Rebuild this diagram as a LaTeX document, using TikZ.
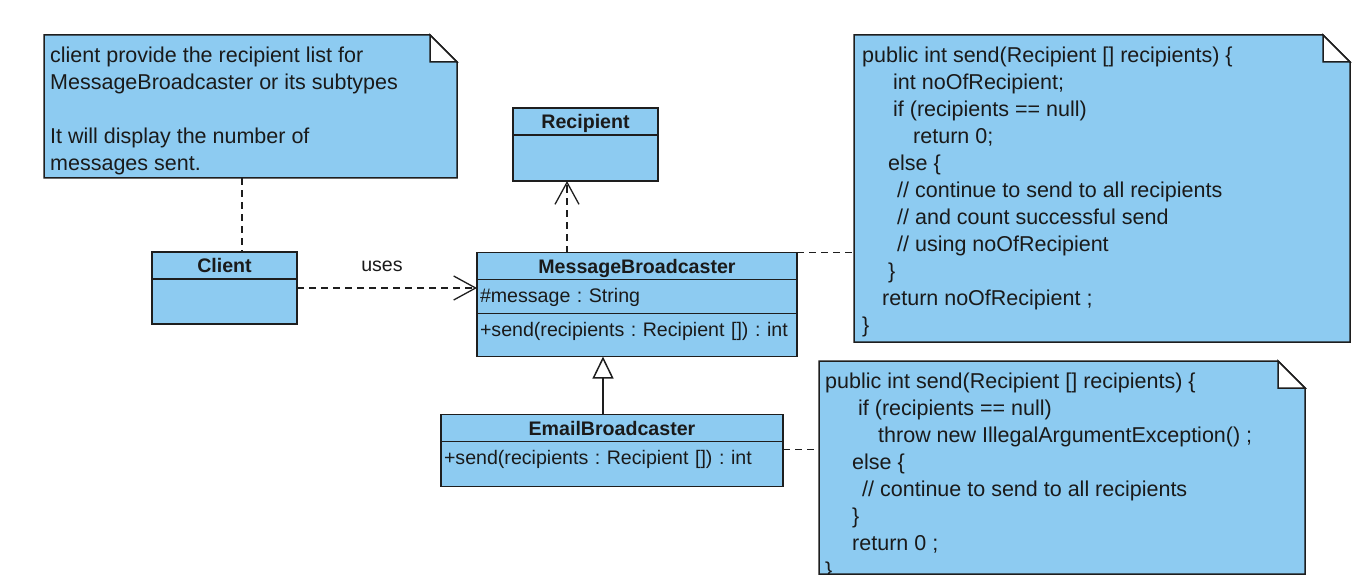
\documentclass[tikz,border=0pt]{standalone}
\usepackage{fontspec}
\setmainfont{Liberation Sans}
\usetikzlibrary{positioning,arrows.meta}
\definecolor{umlfill}{HTML}{8DCBF1}
\definecolor{umlline}{HTML}{1E1E1E}
\definecolor{umltext}{HTML}{1A1A1A}
\frenchspacing
% note outline with a folded corner
\newcommand{\notefold}[1]{%
  \path[notefill] (#1.north west) -- ([xshift=-27pt]#1.north east) -- ([yshift=-27pt]#1.north east) -- (#1.south east) -- (#1.south west) -- cycle;
  \path[notefill, fill=white] ([xshift=-27pt]#1.north east) |- ([yshift=-27pt]#1.north east) -- cycle;}

\begin{document}
\begin{tikzpicture}[x=1pt, y=-1pt]
  \tikzstyle{umlbox} = [rectangle, draw=umlline, fill=umlfill, line width=1.5pt, outer sep=0pt, text=umltext]
  \tikzstyle{classhead} = [umlbox, inner sep=0pt, text height=20.5pt, text depth=6.5pt, font=\fontsize{19.6}{24}\selectfont\bfseries]
  \tikzstyle{classpart} = [umlbox, inner xsep=3pt, inner ysep=0pt, text height=23pt, align=left, font=\fontsize{19.6}{24}\selectfont]
  \tikzstyle{notearea} = [rectangle, inner sep=0pt, outer sep=0pt]
  \tikzstyle{notefill} = [draw=umlline, fill=umlfill, line width=1.5pt]
  \tikzstyle{notetext} = [inner sep=0pt, align=left, text=umltext, font=\fontsize{21.5}{27}\selectfont]
  \tikzstyle{link} = [draw=umlline, line width=1.3pt, dash pattern=on 7pt off 5pt]
  \tikzstyle{depend} = [link, -{Straight Barb[length=22pt, width=24pt]}]
  \tikzstyle{inherit} = [draw=umlline, line width=1.5pt, -{Triangle[open, length=22pt, width=21pt]}]

  \useasboundingbox (0,0) rectangle (1372,588);

  % classes
  \node (clientHead) [classhead, minimum width=145pt] at (224.5,265.5) {Client};
  \node (clientBody) [classpart, minimum width=145pt, text depth=22pt, below=0pt of clientHead] {};

  \node (recipientHead) [classhead, minimum width=145pt] at (585.5,121.5) {Recipient};
  \node (recipientBody) [classpart, minimum width=145pt, text depth=23pt, below=0pt of recipientHead] {};

  \node (mbHead) [classhead, minimum width=320pt] at (637,266) {MessageBroadcaster};
  \node (mbAttr) [classpart, text width=314pt, text depth=11pt, below=0pt of mbHead] {\#message : String};
  \node (mbOps) [classpart, text width=314pt, text depth=20pt, below=0pt of mbAttr] {+send(recipients : Recipient []) : int};

  \node (ebHead) [classhead, minimum width=342pt] at (612,428) {EmailBroadcaster};
  \node (ebBody) [classpart, text width=336pt, text depth=22pt, below=0pt of ebHead] {+send(recipients : Recipient []) : int};

  % notes
  \node (noteClient) [notearea, minimum width=413pt, minimum height=143pt] at (250.5,106.5) {};
  \notefold{noteClient}
  \node (noteClientText) [notetext, below right=11.5pt and 6pt of noteClient.north west] {client provide the recipient list for\\MessageBroadcaster or its subtypes\\\mbox{}\\It will display the number of\\messages sent.};

  \node (noteSend) [notearea, minimum width=496pt, minimum height=307pt] at (1102,188.5) {};
  \notefold{noteSend}
  \node (noteSendText) [notetext, below right=11.5pt and 8pt of noteSend.north west] {public int send(Recipient [] recipients) \{\\
    \hspace*{31pt}int noOfRecipient;\\
    \hspace*{31pt}if (recipients == null)\\
    \hspace*{51pt}return 0;\\
    \hspace*{26pt}else \{\\
    \hspace*{35pt}// continue to send to all recipients\\
    \hspace*{35pt}// and count successful send\\
    \hspace*{35pt}// using noOfRecipient\\
    \hspace*{26pt}\}\\
    \hspace*{20pt}return noOfRecipient ;\\
    \}};

  \node (noteEmail) [notearea, minimum width=486pt, minimum height=213pt] at (1062,467.5) {};
  \notefold{noteEmail}
  \begin{scope}
    \clip (noteEmail.north west) rectangle (noteEmail.south east);
    \node (noteEmailText) [notetext, below right=12pt and 6pt of noteEmail.north west] {public int send(Recipient [] recipients) \{\\
      \hspace*{33pt}if (recipients == null)\\
      \hspace*{53pt}throw new IllegalArgumentException() ;\\
      \hspace*{27pt}else \{\\
      \hspace*{37pt}// continue to send to all recipients\\
      \hspace*{27pt}\}\\
      \hspace*{27pt}return 0 ;\\
      \}};
  \end{scope}

  % connectors
  \draw[link] ([xshift=-8.5pt]noteClient.south) -- ([xshift=-8.5pt]noteClient.south |- clientHead.north);
  \draw[depend] ([yshift=13.5pt]clientBody.east) -- node (usesLabel) [pos=0.472, above=16pt, inner sep=0pt, text=umltext, font=\fontsize{19.6}{24}\selectfont] {uses} ([yshift=13.5pt]clientBody.east -| mbAttr.west);
  \draw[depend] ([xshift=-18.5pt]recipientBody.south |- mbHead.north) -- ([xshift=-18.5pt]recipientBody.south);
  \draw[inherit] ([xshift=-9pt]ebHead.north) -- ([xshift=-9pt]ebHead.north |- mbOps.south);
  \draw[link] (mbHead.north east) -- (mbHead.north east -| noteSend.west);
  \draw[link] ([yshift=14.5pt]ebBody.east) -- ([yshift=14.5pt]ebBody.east -| noteEmail.west);
\end{tikzpicture}
\end{document}
